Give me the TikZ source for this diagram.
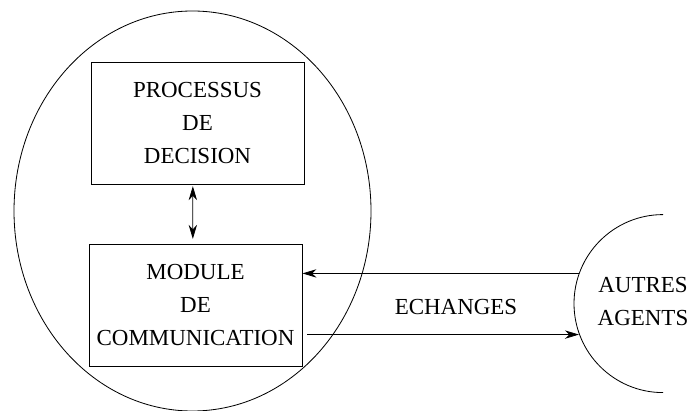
\documentclass[tikz,border=0pt]{standalone}
\usepackage{fontspec}
\setmainfont{Liberation Serif}
\usetikzlibrary{shapes,arrows.meta,positioning}

\begin{document}
\begin{tikzpicture}[line width=0.7pt, >={Stealth[length=4.2mm, width=2.5mm, inset=1.3mm]},
  font=\fontsize{19.6}{28.2}\selectfont,
  bloc/.style={rectangle, draw, minimum width=6.39cm, minimum height=3.66cm, align=center, inner sep=0pt}]
\useasboundingbox (0,0) rectangle (20.73,12.33);

% Agent
\node[ellipse, draw, minimum width=10.71cm, minimum height=12cm, inner sep=0pt] (agent) at (5.775,6) {};

% Decision
\node[bloc] (decision) at (5.925,8.64) {PROCESSUS\\DE\\DECISION};

% Communication
\node[bloc] (communication) at (5.865,3.18) {MODULE\\DE\\COMMUNICATION};

% Autres agents
\node[circle, minimum size=5.34cm, inner sep=0pt] (autres) at (19.89,3.21) {};
\draw (autres.90) arc[start angle=90, end angle=270, radius=2.67cm];
\node[align=center] (autreslabel) at (19.29,3.28) {AUTRES\\AGENTS};

% Arrows
\draw[<->, shorten <=1.5pt, shorten >=4pt] ([xshift=-0.14cm]decision.south) -- ([xshift=-0.08cm]communication.north);
\draw[->] (autres.160) -- (communication.east |- autres.160);
\draw[->, shorten <=4pt] (communication.east |- autres.200) -- (autres.200);
\node (echanges) at (13.68,3.12) {ECHANGES};
\end{tikzpicture}
\end{document}
